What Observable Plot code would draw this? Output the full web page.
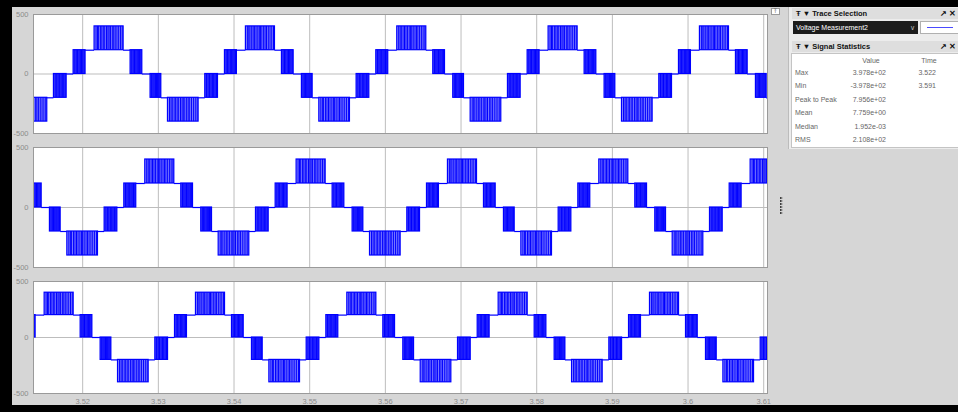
<!DOCTYPE html>
<html>
<head>
<meta charset="utf-8">
<script src="https://cdn.jsdelivr.net/npm/d3@7"></script>
<script src="https://cdn.jsdelivr.net/npm/@observablehq/plot@0.6"></script>
<style>
  html, body { margin: 0; padding: 0; }
  body { width: 958px; height: 412px; overflow: hidden; background: #000; position: relative;
         font-family: "Liberation Sans", Arial, sans-serif; }
  #bg { position: absolute; left: 12px; top: 7px; width: 946px; height: 398px; background: #d6d6d6; }
  .scope { position: absolute; left: 0; }
  .scope svg { display: block; }
  #side { position: absolute; left: 788px; top: 7px; width: 170px; height: 142px; background: #ececec;
          border-left: 1px solid #bcbcbc; }
  .hdr { position: absolute; left: 3px; width: 167px; height: 11px; background: #dedede;
         font-size: 7.5px; font-weight: bold; color: #111; line-height: 11px; box-sizing: border-box; padding-left: 4px; }
  .hdr .ic { position: absolute; right: 3px; top: 0; font-weight: bold; }
  #dd { position: absolute; left: 4px; top: 14px; width: 125px; height: 13px; background: #1c1c1c; color: #fff;
        font-size: 7px; line-height: 13px; padding-left: 3px; box-sizing: border-box; }
  #dd .chev { position: absolute; right: 3px; top: 0; color: #bbb; font-size: 7px; }
  #lbox { position: absolute; left: 131px; top: 14px; width: 39px; height: 13px; background: #fff;
          border: 1px solid #b0b0b0; box-sizing: border-box; }
  #lbox div { position: absolute; left: 6px; right: 5px; top: 5px; height: 1px; background: #4a4aff; }
  #stats { position: absolute; left: 2px; top: 46px; width: 168px; height: 95px; background: #fff;
           border: 1px solid #c4c4c4; box-sizing: border-box; font-size: 7px; color: #666; }
  #stats .c { position: absolute; white-space: nowrap; line-height: 8px; }
  #pin { position: absolute; left: 771px; top: 8px; width: 9px; height: 7px; background: #fff;
         border: 1px solid #9a9a9a; box-sizing: border-box; font-size: 6px; line-height: 5px; text-align: center; color: #333; }
  #marks { position: absolute; left: 780px; top: 197px; }
  #marks i { display: block; width: 0; height: 0; margin-bottom: 1px;
             border-left: 3px solid #222; border-top: 1.5px solid transparent; border-bottom: 1.5px solid transparent; }
</style>
</head>
<body>
<div id="bg"></div>
<div id="p1" class="scope"></div>
<div id="p2" class="scope"></div>
<div id="p3" class="scope"></div>
<div id="pin">&#x2912;</div>
<div id="marks"></div>
<div id="side">
  <div class="hdr" style="top:1px">&#x0166; &#x25BC; Trace Selection<span class="ic">&#x2197; &#x2715;</span></div>
  <div id="dd">Voltage Measurement2<span class="chev">&#x2228;</span></div>
  <div id="lbox"><div></div></div>
  <div class="hdr" style="top:34px">&#x0166; &#x25BC; Signal Statistics<span class="ic">&#x2197; &#x2715;</span></div>
  <div id="stats"></div>
</div>
<script>
// Time axis (s) and amplitude axis (V)
const xTicks = [3.52, 3.53, 3.54, 3.55, 3.56, 3.57, 3.58, 3.59, 3.60, 3.61];
const xTickLabels = ["3.52", "3.53", "3.54", "3.55", "3.56", "3.57", "3.58", "3.59", "3.6", "3.61"];
const yTicks = [-500, 0, 500];
const yTickLabels = ["-500", "0", "500"];

// One fundamental cycle of the five-level inverter output, starting where the
// 0 -> 200 V switching band begins. Times in ms from that point.
const segStart = [0, 1.58, 2.77, 6.61, 7.53, 9.08, 10.17, 11.59, 12.47, 16.52, 17.40, 19.08];
const segEnd   = [1.58, 2.77, 6.61, 7.53, 9.08, 10.17, 11.59, 12.47, 16.52, 17.40, 19.08, 20.0];
const segLow   = [0, 200, 200, 200, 0, 0, -200, -200, -400, -200, -200, 0];
const segHigh  = [200, 200, 400, 200, 200, 0, 0, -200, -200, -200, 0, 0];
const cyclePeriod = 0.02;

// Start of the first 0 -> 200 V band in each scope (phases a, c, b)
const cycleStarts = [3.5188, 3.5255, 3.5122];

// Switching edges inside a band, as a fraction of the band width
const outerPulses = [0.05, 0.1, 0.14, 0.2, 0.25, 0.3, 0.35, 0.41, 0.46, 0.5, 0.55, 0.61, 0.66, 0.71, 0.77, 0.83, 0.89, 0.95];
const innerPulses = [0.1, 0.22, 0.33, 0.45, 0.56, 0.66, 0.77, 0.88];

// Signal statistics readout
const statLabels = ["Max", "Min", "Peak to Peak", "Mean", "Median", "RMS"];
const statValues = ["3.978e+02", "-3.978e+02", "7.956e+02", "7.759e+00", "1.952e-03", "2.108e+02"];
const statTimes  = ["3.522", "3.591", "", "", "", ""];

const xDomain = [3.5135, 3.6105];
const frames = [
  {id: "p1", top: 14, h: 119, axis: false},
  {id: "p2", top: 147, h: 120, axis: false},
  {id: "p3", top: 281, h: 112, axis: true}
];

function scopeData(start) {
  const bands = [], levels = [], pulses = [];
  for (let k = -1; k <= 5; k++) {
    const c = start + k * cyclePeriod;
    segStart.forEach((s, i) => {
      let t0 = c + s / 1000, t1 = c + segEnd[i] / 1000;
      const lo = segLow[i], hi = segHigh[i];
      const outer = Math.abs(lo) + Math.abs(hi) === 600;
      if (lo !== hi) {
        (outer ? outerPulses : innerPulses).forEach(f => {
          const t = t0 + f * (t1 - t0);
          if (t > xDomain[0] && t < xDomain[1]) pulses.push({t, lo, hi});
        });
      }
      t0 = Math.max(t0, xDomain[0]); t1 = Math.min(t1, xDomain[1]);
      if (t0 >= t1) return;
      if (lo === hi) levels.push({t0, t1, v: lo});
      else bands.push({t0, t1, lo, hi, op: outer ? 0.45 : 0.72});
    });
  }
  return {bands, levels, pulses};
}

const trace = "#0000ff";
const gridColor = "#bdbdbd";

frames.forEach((f, i) => {
  const d = scopeData(cycleStarts[i]);
  const marginTop = 6, marginBottom = f.axis ? 16 : 6;
  const el = document.getElementById(f.id);
  el.style.top = (f.top - marginTop) + "px";
  const chart = Plot.plot({
    width: 790,
    height: f.h + marginTop + marginBottom,
    marginLeft: 33, marginRight: 23, marginTop, marginBottom,
    style: {background: "transparent", color: "#8c8c8c", fontFamily: "Liberation Sans, Arial, sans-serif", fontSize: "7.5px", overflow: "visible"},
    x: {domain: xDomain, ticks: xTicks, tickFormat: (v, j) => xTickLabels[j], tickSize: 0, tickPadding: 5, label: null, axis: f.axis ? "bottom" : null},
    y: {domain: [-500, 500], ticks: yTicks, tickFormat: (v, j) => yTickLabels[j], tickSize: 0, tickPadding: 5, label: null},
    marks: [
      Plot.frame({fill: "white", stroke: null}),
      Plot.ruleX(xTicks, {stroke: gridColor, strokeWidth: 1}),
      Plot.ruleY([0], {stroke: gridColor, strokeWidth: 1}),
      Plot.rect(d.bands, {x1: "t0", x2: "t1", y1: "lo", y2: "hi", fill: trace, fillOpacity: "op", stroke: trace, strokeWidth: 1.2, clip: true}),
      Plot.ruleX(d.pulses, {x: "t", y1: "lo", y2: "hi", stroke: trace, strokeWidth: 1, clip: true}),
      Plot.ruleY(d.levels, {y: "v", x1: "t0", x2: "t1", stroke: trace, strokeWidth: 1.2, clip: true}),
      Plot.frame({stroke: "#9a9a9a"})
    ]
  });
  el.appendChild(chart);
});

// Statistics table
const stats = document.getElementById("stats");
function cell(text, left, top, align) {
  const s = document.createElement("div");
  s.className = "c";
  s.textContent = text;
  s.style.top = top + "px";
  if (align === "right") { s.style.right = left + "px"; } else if (align === "center") { s.style.left = left + "px"; s.style.transform = "translateX(-50%)"; } else { s.style.left = left + "px"; }
  stats.appendChild(s);
}
cell("Value", 79, 3, "center");
cell("Time", 137, 3, "center");
statLabels.forEach((lab, j) => {
  const top = 15 + j * 13.4;
  cell(lab, 3, top, "left");
  cell(statValues[j], 72, top, "right");
  cell(statTimes[j], 22, top, "right");
});

// Collapsed-axes indicator (six small arrowheads)
const marks = document.getElementById("marks");
marks.innerHTML = "<i></i>".repeat(6);
</script>
</body>
</html>
